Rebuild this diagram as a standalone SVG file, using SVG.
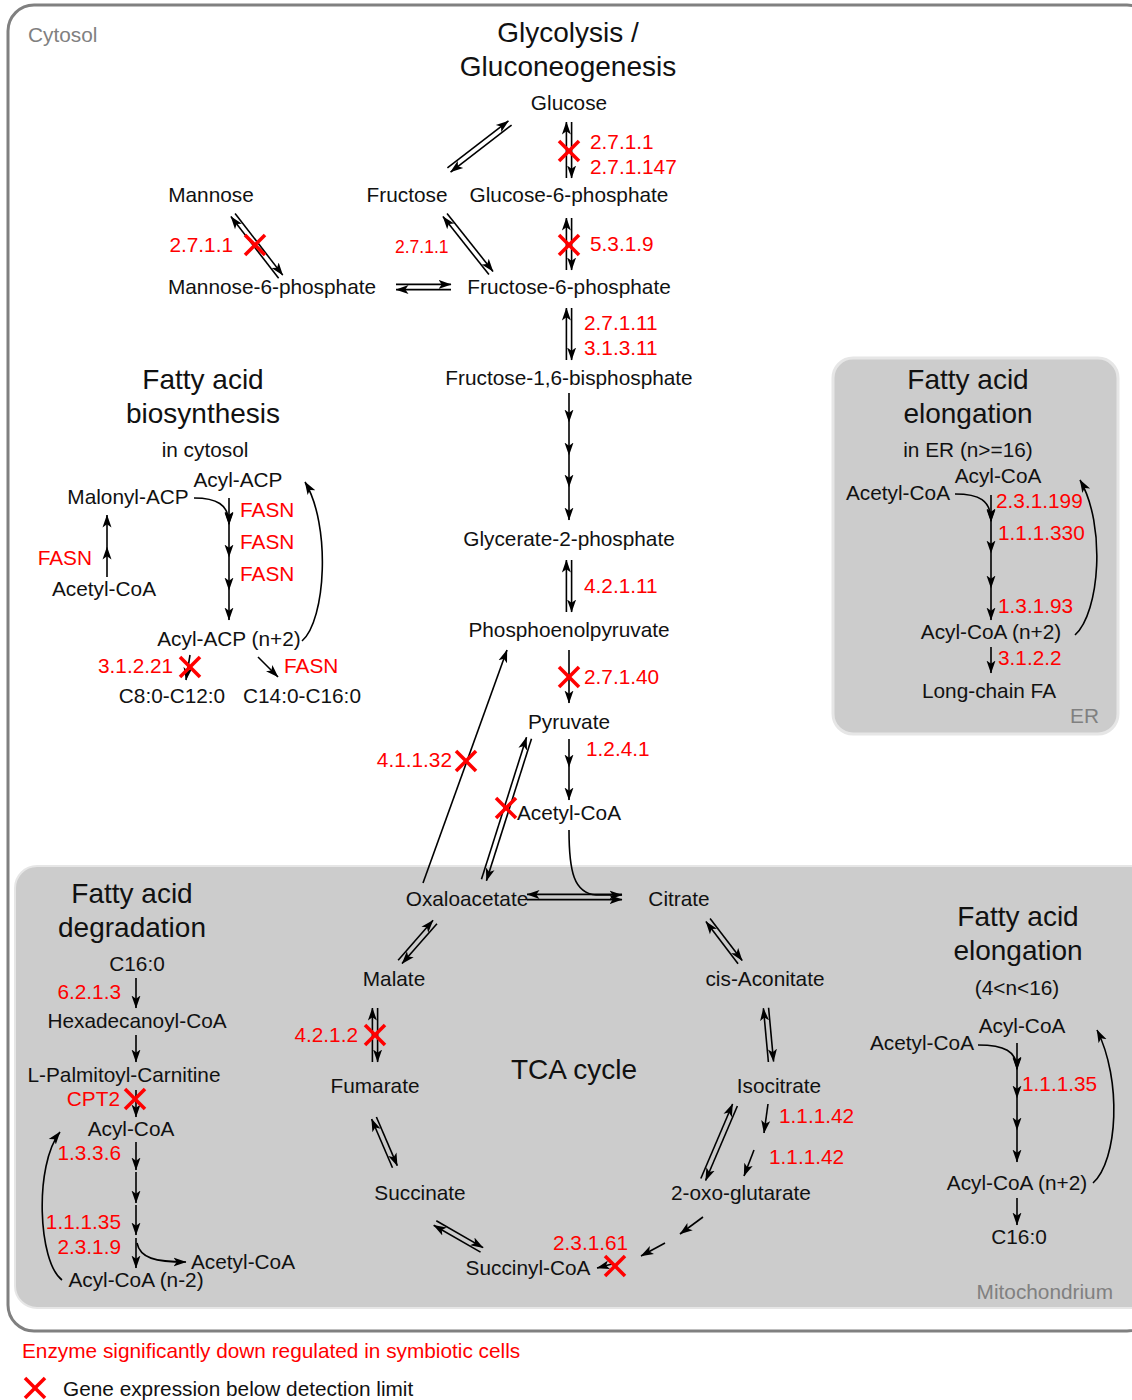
<svg xmlns="http://www.w3.org/2000/svg" width="1132" height="1400" viewBox="0 0 1132 1400">
<defs>
<marker id="ah" markerUnits="userSpaceOnUse" markerWidth="13" markerHeight="11" viewBox="0 0 13 11" refX="12.5" refY="5.5" orient="auto">
<path d="M0,1 L13,5.5 L0,10 L3.2,5.5 z" fill="#000"/>
</marker>
<g id="xm"><line x1="-10" y1="-10" x2="10" y2="10"/><line x1="-10" y1="10" x2="10" y2="-10"/></g>
<style>
text{font-family:"Liberation Sans",Arial,sans-serif;font-size:20.8px;fill:#111}
.t{font-size:28px}
.r{fill:#f00}
.g{fill:#808080}
.m{text-anchor:middle}
.e{text-anchor:end}
.s{font-size:17.5px}
.c line,.c path{stroke:#000;stroke-width:1.6;fill:none;marker-end:url(#ah)}
.x{stroke:#f00;stroke-width:3.5}
</style>
</defs>
<rect x="8" y="5" width="1145" height="1326" rx="26" fill="#fff" stroke="#808080" stroke-width="3"/>
<rect x="15" y="866" width="1140" height="442" rx="22" fill="#cccccc" stroke="#e6e6e6" stroke-width="2"/>
<rect x="833" y="358" width="285" height="376" rx="20" fill="#cccccc" stroke="#e6e6e6" stroke-width="3"/>
<text x="28" y="42" class="g">Cytosol</text>
<text x="1113" y="1299" class="g e">Mitochondrium</text>
<text x="1099" y="723" class="g e">ER</text>

<g id="titles">
<text x="568" y="42" class="t m">Glycolysis /</text>
<text x="568" y="76" class="t m">Gluconeogenesis</text>
<text x="203" y="389" class="t m">Fatty acid</text>
<text x="203" y="423" class="t m">biosynthesis</text>
<text x="205" y="457" class="m">in cytosol</text>
<text x="968" y="389" class="t m">Fatty acid</text>
<text x="968" y="423" class="t m">elongation</text>
<text x="968" y="457" class="m">in ER (n&gt;=16)</text>
<text x="132" y="903" class="t m">Fatty acid</text>
<text x="132" y="937" class="t m">degradation</text>
<text x="1018" y="926" class="t m">Fatty acid</text>
<text x="1018" y="960" class="t m">elongation</text>
<text x="1017" y="995" class="m">(4&lt;n&lt;16)</text>
<text x="574" y="1079" class="t m">TCA cycle</text>
</g>

<g id="connectors" class="c">
<!-- double arrows -->
<g transform="translate(510 123) rotate(142.4)"><line x1="0" y1="-2.6" x2="77" y2="-2.6"/><line x1="77" y1="2.6" x2="0" y2="2.6"/></g>
<g transform="translate(569 122) rotate(90)"><line x1="0" y1="-2.6" x2="56" y2="-2.6"/><line x1="56" y1="2.6" x2="0" y2="2.6"/></g>
<g transform="translate(233 215) rotate(52.3)"><line x1="0" y1="-2.6" x2="78" y2="-2.6"/><line x1="78" y1="2.6" x2="0" y2="2.6"/></g>
<g transform="translate(445 215) rotate(51.6)"><line x1="0" y1="-2.6" x2="74" y2="-2.6"/><line x1="74" y1="2.6" x2="0" y2="2.6"/></g>
<g transform="translate(569 218) rotate(90)"><line x1="0" y1="-2.6" x2="52" y2="-2.6"/><line x1="52" y1="2.6" x2="0" y2="2.6"/></g>
<g transform="translate(396 287)"><line x1="0" y1="-2.6" x2="55" y2="-2.6"/><line x1="55" y1="2.6" x2="0" y2="2.6"/></g>
<g transform="translate(569 308) rotate(90)"><line x1="0" y1="-2.6" x2="52" y2="-2.6"/><line x1="52" y1="2.6" x2="0" y2="2.6"/></g>
<g transform="translate(569 560) rotate(90)"><line x1="0" y1="-2.6" x2="52" y2="-2.6"/><line x1="52" y1="2.6" x2="0" y2="2.6"/></g>
<g transform="translate(529 738) rotate(107.6)"><line x1="0" y1="-2.6" x2="149" y2="-2.6"/><line x1="149" y1="2.6" x2="0" y2="2.6"/></g>
<g transform="translate(527 897)"><line x1="95" y1="-2.6" x2="0" y2="-2.6"/><line x1="0" y1="2.6" x2="95" y2="2.6"/></g>
<g transform="translate(435 922) rotate(131.2)"><line x1="0" y1="-2.6" x2="53" y2="-2.6"/><line x1="53" y1="2.6" x2="0" y2="2.6"/></g>
<g transform="translate(375 1008) rotate(90)"><line x1="0" y1="-2.6" x2="54" y2="-2.6"/><line x1="54" y1="2.6" x2="0" y2="2.6"/></g>
<g transform="translate(374 1118) rotate(66.8)"><line x1="0" y1="-2.6" x2="53" y2="-2.6"/><line x1="53" y1="2.6" x2="0" y2="2.6"/></g>
<g transform="translate(435 1223) rotate(29.9)"><line x1="0" y1="-2.6" x2="54" y2="-2.6"/><line x1="54" y1="2.6" x2="0" y2="2.6"/></g>
<g transform="translate(708 920) rotate(52.7)"><line x1="0" y1="-2.6" x2="53" y2="-2.6"/><line x1="53" y1="2.6" x2="0" y2="2.6"/></g>
<g transform="translate(766 1008) rotate(84.7)"><line x1="0" y1="-2.6" x2="54" y2="-2.6"/><line x1="54" y1="2.6" x2="0" y2="2.6"/></g>
<g transform="translate(735 1105) rotate(113.1)"><line x1="0" y1="-2.6" x2="81" y2="-2.6"/><line x1="81" y1="2.6" x2="0" y2="2.6"/></g>
<!-- glycolysis singles -->
<line x1="569" y1="393" x2="569" y2="422"/><line x1="569" y1="422" x2="569" y2="455"/><line x1="569" y1="455" x2="569" y2="487"/><line x1="569" y1="487" x2="569" y2="520"/>
<line x1="569" y1="650" x2="569" y2="703"/>
<line x1="569" y1="739" x2="569" y2="767"/><line x1="569" y1="767" x2="569" y2="800"/>
<line x1="423" y1="883" x2="507" y2="650"/>
<path d="M569,830 C569,872 574,893 596,895 L622,895"/>
<!-- TCA singles -->
<line x1="768" y1="1104" x2="764" y2="1133"/>
<line x1="754" y1="1150" x2="744" y2="1176"/>
<line x1="703" y1="1217" x2="680" y2="1234"/>
<line x1="665" y1="1243" x2="641" y2="1256"/>
<line x1="612" y1="1264" x2="597" y2="1268"/>
<!-- biosynthesis -->
<path d="M194,498 C216,498 229,504 229,524"/>
<line x1="229" y1="498" x2="229" y2="525"/><line x1="229" y1="525" x2="229" y2="557"/><line x1="229" y1="557" x2="229" y2="590"/><line x1="229" y1="590" x2="229" y2="620"/>
<line x1="107" y1="577" x2="107" y2="547"/><line x1="107" y1="547" x2="107" y2="515"/>
<path d="M302,641 C326,620 331,525 305,482"/>
<line x1="190" y1="655" x2="186" y2="680"/>
<line x1="258" y1="657" x2="278" y2="677"/>
<!-- ER elongation -->
<path d="M955,494 C979,494 991,500 991,521"/>
<line x1="991" y1="495" x2="991" y2="522"/><line x1="991" y1="522" x2="991" y2="553"/><line x1="991" y1="553" x2="991" y2="588"/><line x1="991" y1="588" x2="991" y2="620"/>
<line x1="991" y1="647" x2="991" y2="673"/>
<path d="M1075,635 C1100,612 1106,525 1080,480"/>
<!-- degradation -->
<line x1="136" y1="978" x2="136" y2="1008"/>
<line x1="136" y1="1035" x2="136" y2="1062"/>
<line x1="136" y1="1090" x2="136" y2="1117"/>
<line x1="136" y1="1142" x2="136" y2="1170"/><line x1="136" y1="1172" x2="136" y2="1203"/><line x1="136" y1="1205" x2="136" y2="1235"/><line x1="136" y1="1238" x2="136" y2="1268"/>
<path d="M137,1243 C140,1258 155,1262 186,1262"/>
<path d="M62,1280 C38,1262 34,1165 60,1132"/>
<!-- mito elongation -->
<path d="M978,1045 C1004,1045 1017,1051 1017,1069"/>
<line x1="1017" y1="1043" x2="1017" y2="1070"/><line x1="1017" y1="1070" x2="1017" y2="1098"/><line x1="1017" y1="1098" x2="1017" y2="1130"/><line x1="1017" y1="1130" x2="1017" y2="1162"/>
<line x1="1017" y1="1198" x2="1017" y2="1225"/>
<path d="M1093,1183 C1118,1160 1122,1080 1097,1030"/>
</g>

<g id="glycolysis-nodes">
<g id="n-glucose"><text x="569" y="110" class="m">Glucose</text></g>
<g id="n-mannose"><text x="211" y="202" class="m">Mannose</text></g>
<g id="n-fructose"><text x="407" y="202" class="m">Fructose</text></g>
<g id="n-g6p"><text x="569" y="202" class="m">Glucose-6-phosphate</text></g>
<g id="n-m6p"><text x="272" y="294" class="m">Mannose-6-phosphate</text></g>
<g id="n-f6p"><text x="569" y="294" class="m">Fructose-6-phosphate</text></g>
<g id="n-f16bp"><text x="569" y="385" class="m">Fructose-1,6-bisphosphate</text></g>
<g id="n-g2p"><text x="569" y="546" class="m">Glycerate-2-phosphate</text></g>
<g id="n-pep"><text x="569" y="637" class="m">Phosphoenolpyruvate</text></g>
<g id="n-pyruvate"><text x="569" y="729" class="m">Pyruvate</text></g>
<g id="n-acetylcoa"><text x="569" y="820" class="m">Acetyl-CoA</text></g>
</g>
<g id="tca-nodes">
<g id="n-oaa"><text x="467" y="906" class="m">Oxaloacetate</text></g>
<g id="n-citrate"><text x="679" y="906" class="m">Citrate</text></g>
<g id="n-malate"><text x="394" y="986" class="m">Malate</text></g>
<g id="n-cisacon"><text x="765" y="986" class="m">cis-Aconitate</text></g>
<g id="n-fumarate"><text x="375" y="1093" class="m">Fumarate</text></g>
<g id="n-isocitrate"><text x="779" y="1093" class="m">Isocitrate</text></g>
<g id="n-succinate"><text x="420" y="1200" class="m">Succinate</text></g>
<g id="n-oxoglut"><text x="741" y="1200" class="m">2-oxo-glutarate</text></g>
<g id="n-succoa"><text x="528" y="1275" class="m">Succinyl-CoA</text></g>
</g>
<g id="fab-nodes">
<g id="n-acylacp"><text x="238" y="487" class="m">Acyl-ACP</text></g>
<g id="n-malonyl"><text x="128" y="504" class="m">Malonyl-ACP</text></g>
<g id="n-fab-acetyl"><text x="104" y="596" class="m">Acetyl-CoA</text></g>
<g id="n-acylacp2"><text x="229" y="646" class="m">Acyl-ACP (n+2)</text></g>
<g id="n-c8"><text x="172" y="703" class="m">C8:0-C12:0</text></g>
<g id="n-c14"><text x="302" y="703" class="m">C14:0-C16:0</text></g>
</g>
<g id="er-nodes">
<g id="n-er-acyl"><text x="998" y="483" class="m">Acyl-CoA</text></g>
<g id="n-er-acetyl"><text x="898" y="500" class="m">Acetyl-CoA</text></g>
<g id="n-er-acyl2"><text x="991" y="639" class="m">Acyl-CoA (n+2)</text></g>
<g id="n-er-lcfa"><text x="989" y="698" class="m">Long-chain FA</text></g>
</g>
<g id="deg-nodes">
<g id="n-c16"><text x="137" y="971" class="m">C16:0</text></g>
<g id="n-hexa"><text x="137" y="1028" class="m">Hexadecanoyl-CoA</text></g>
<g id="n-palm"><text x="124" y="1082" class="m">L-Palmitoyl-Carnitine</text></g>
<g id="n-deg-acyl"><text x="131" y="1136" class="m">Acyl-CoA</text></g>
<g id="n-deg-acetyl"><text x="191" y="1269">Acetyl-CoA</text></g>
<g id="n-deg-acyl2"><text x="136" y="1287" class="m">Acyl-CoA (n-2)</text></g>
</g>
<g id="elo-nodes">
<g id="n-elo-acyl"><text x="1022" y="1033" class="m">Acyl-CoA</text></g>
<g id="n-elo-acetyl"><text x="922" y="1050" class="m">Acetyl-CoA</text></g>
<g id="n-elo-acyl2"><text x="1017" y="1190" class="m">Acyl-CoA (n+2)</text></g>
<g id="n-elo-c16"><text x="1019" y="1244" class="m">C16:0</text></g>
</g>

<g id="enzymes">
<text x="590" y="149" class="r">2.7.1.1</text>
<text x="590" y="174" class="r">2.7.1.147</text>
<text x="233" y="252" class="r e">2.7.1.1</text>
<text x="395" y="253" class="r s">2.7.1.1</text>
<text x="590" y="251" class="r">5.3.1.9</text>
<text x="584" y="330" class="r">2.7.1.11</text>
<text x="584" y="355" class="r">3.1.3.11</text>
<text x="584" y="593" class="r">4.2.1.11</text>
<text x="584" y="684" class="r">2.7.1.40</text>
<text x="586" y="756" class="r">1.2.4.1</text>
<text x="452" y="767" class="r e">4.1.1.32</text>
<text x="358" y="1042" class="r e">4.2.1.2</text>
<text x="779" y="1123" class="r">1.1.1.42</text>
<text x="769" y="1164" class="r">1.1.1.42</text>
<text x="553" y="1250" class="r">2.3.1.61</text>
<text x="240" y="517" class="r">FASN</text>
<text x="240" y="549" class="r">FASN</text>
<text x="240" y="581" class="r">FASN</text>
<text x="92" y="565" class="r e">FASN</text>
<text x="98" y="673" class="r">3.1.2.21</text>
<text x="284" y="673" class="r">FASN</text>
<text x="996" y="508" class="r">2.3.1.199</text>
<text x="998" y="540" class="r">1.1.1.330</text>
<text x="998" y="613" class="r">1.3.1.93</text>
<text x="998" y="665" class="r">3.1.2.2</text>
<text x="121" y="999" class="r e">6.2.1.3</text>
<text x="120" y="1106" class="r e">CPT2</text>
<text x="121" y="1160" class="r e">1.3.3.6</text>
<text x="121" y="1229" class="r e">1.1.1.35</text>
<text x="121" y="1254" class="r e">2.3.1.9</text>
<text x="1022" y="1091" class="r">1.1.1.35</text>
</g>

<g id="crosses" class="x">
<use href="#xm" x="569" y="151"/>
<use href="#xm" x="255" y="245"/>
<use href="#xm" x="569" y="245"/>
<use href="#xm" x="569" y="677"/>
<use href="#xm" x="466" y="761"/>
<use href="#xm" x="506" y="808"/>
<use href="#xm" x="190" y="667"/>
<use href="#xm" x="375" y="1035"/>
<use href="#xm" x="615" y="1266"/>
<use href="#xm" x="135" y="1099"/>
</g>

<g id="legend">
<text x="22" y="1358" class="r">Enzyme significantly down regulated in symbiotic cells</text>
<use href="#xm" x="35" y="1388" class="x"/>
<text x="63" y="1396">Gene expression below detection limit</text>
</g>
</svg>
